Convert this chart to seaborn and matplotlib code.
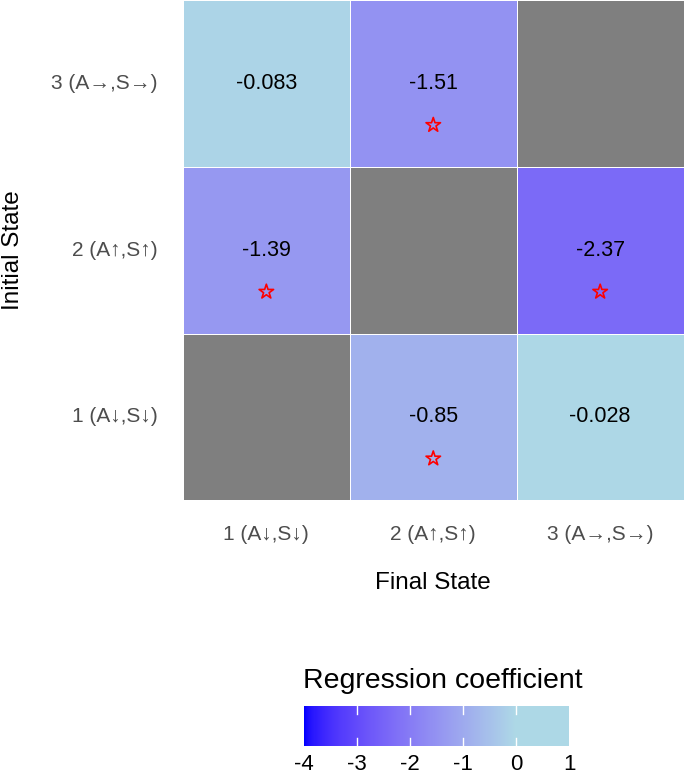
import numpy as np
import pandas as pd
import matplotlib
matplotlib.use("Agg")
import matplotlib.pyplot as plt
import seaborn as sns
from matplotlib.colors import ListedColormap, to_rgb

# Data
final_states = ["1 (A\u2193,S\u2193)", "2 (A\u2191,S\u2191)", "3 (A\u2192,S\u2192)"]
initial_states = ["3 (A\u2192,S\u2192)", "2 (A\u2191,S\u2191)", "1 (A\u2193,S\u2193)"]
coef_row3 = [-0.083, -1.51, np.nan]
coef_row2 = [-1.39, np.nan, -2.37]
coef_row1 = [np.nan, -0.85, -0.028]
labels_row3 = ["-0.083", "-1.51", ""]
labels_row2 = ["-1.39", "", "-2.37"]
labels_row1 = ["", "-0.85", "-0.028"]
signif_row3 = [False, True, False]
signif_row2 = [True, False, True]
signif_row1 = [False, True, False]
cbar_ticks = [-4, -3, -2, -1, 0, 1]

coef = pd.DataFrame([coef_row3, coef_row2, coef_row1], index=initial_states, columns=final_states)
labels = np.array([labels_row3, labels_row2, labels_row1])
signif = np.array([signif_row3, signif_row2, signif_row1])


# gradient blue -> lightblue interpolated in Lab space (like ggplot)
def srgb_to_lab(c):
    c = np.asarray(c, dtype=float)
    lin = np.where(c <= 0.04045, c / 12.92, ((c + 0.055) / 1.055) ** 2.4)
    m = np.array([[0.4124, 0.3576, 0.1805],
                  [0.2126, 0.7152, 0.0722],
                  [0.0193, 0.1192, 0.9505]])
    xyz = m @ lin / np.array([0.95047, 1.0, 1.08883])
    f = np.where(xyz > 0.008856, np.cbrt(xyz), 7.787 * xyz + 16 / 116)
    return np.array([116 * f[1] - 16, 500 * (f[0] - f[1]), 200 * (f[1] - f[2])])


def lab_to_srgb(lab):
    L, a, b = lab
    fy = (L + 16) / 116
    fx = fy + a / 500
    fz = fy - b / 200
    f = np.array([fx, fy, fz])
    xyz = np.where(f ** 3 > 0.008856, f ** 3, (f - 16 / 116) / 7.787)
    xyz = xyz * np.array([0.95047, 1.0, 1.08883])
    m = np.array([[3.2406, -1.5372, -0.4986],
                  [-0.9689, 1.8758, 0.0415],
                  [0.0557, -0.2040, 1.0570]])
    lin = m @ xyz
    lin = np.clip(lin, 0, 1)
    c = np.where(lin <= 0.0031308, 12.92 * lin, 1.055 * lin ** (1 / 2.4) - 0.055)
    return np.clip(c, 0, 1)


# blue at -4, lightblue from 0 up to 1
lab_lo = srgb_to_lab(to_rgb("blue"))
lab_hi = srgb_to_lab(to_rgb("lightblue"))
grid = np.linspace(-4, 1, 256)
frac = np.clip((grid + 4) / 4, 0, 1)
cmap = ListedColormap([lab_to_srgb(lab_lo + (lab_hi - lab_lo) * t) for t in frac])

plt.rcParams["font.family"] = ["Liberation Sans", "DejaVu Sans"]

fig = plt.figure(figsize=(6.85, 7.78), dpi=100)
ax = fig.add_axes([0.267, 0.357, 0.731, 0.643])
cax = fig.add_axes([0.444, 0.041, 0.387, 0.051])

sns.heatmap(coef, ax=ax, cmap=cmap, vmin=-4, vmax=1, annot=labels, fmt="",
            annot_kws={"fontsize": 15.5, "color": "black"},
            linewidths=0.5, linecolor="white", cbar_ax=cax,
            cbar_kws={"orientation": "horizontal", "ticks": cbar_ticks})
ax.set_facecolor("#7F7F7F")

# significance stars
rows, cols = np.where(signif)
ax.scatter(cols + 0.5, rows + 0.75, marker="*", s=120, facecolors="none",
           edgecolors="red", linewidths=1.2, zorder=5)

ax.set_xlabel("Final State", fontsize=17.5, labelpad=20)
ax.set_ylabel("Initial State", fontsize=17.5, labelpad=20)
ax.tick_params(axis="both", length=0, labelsize=15, labelcolor="#4D4D4D", pad=18)
plt.setp(ax.get_yticklabels(), rotation=0)
plt.setp(ax.get_xticklabels(), rotation=0)

# colorbar styling
cb = ax.collections[0].colorbar
cb.outline.set_visible(False)
cax.set_xticklabels([str(t) for t in cbar_ticks])
cax.tick_params(length=0, labelsize=16, pad=6, labelcolor="black")
for t in cbar_ticks[1:-1]:
    cax.plot([t, t], [0, 0.2], color="white", lw=1)
    cax.plot([t, t], [0.8, 1.0], color="white", lw=1)
cax.set_ylim(0, 1)
cax.set_title("Regression coefficient", fontsize=20.5, loc="left", x=-0.005, pad=13)

fig.savefig("out.png", dpi=100)
